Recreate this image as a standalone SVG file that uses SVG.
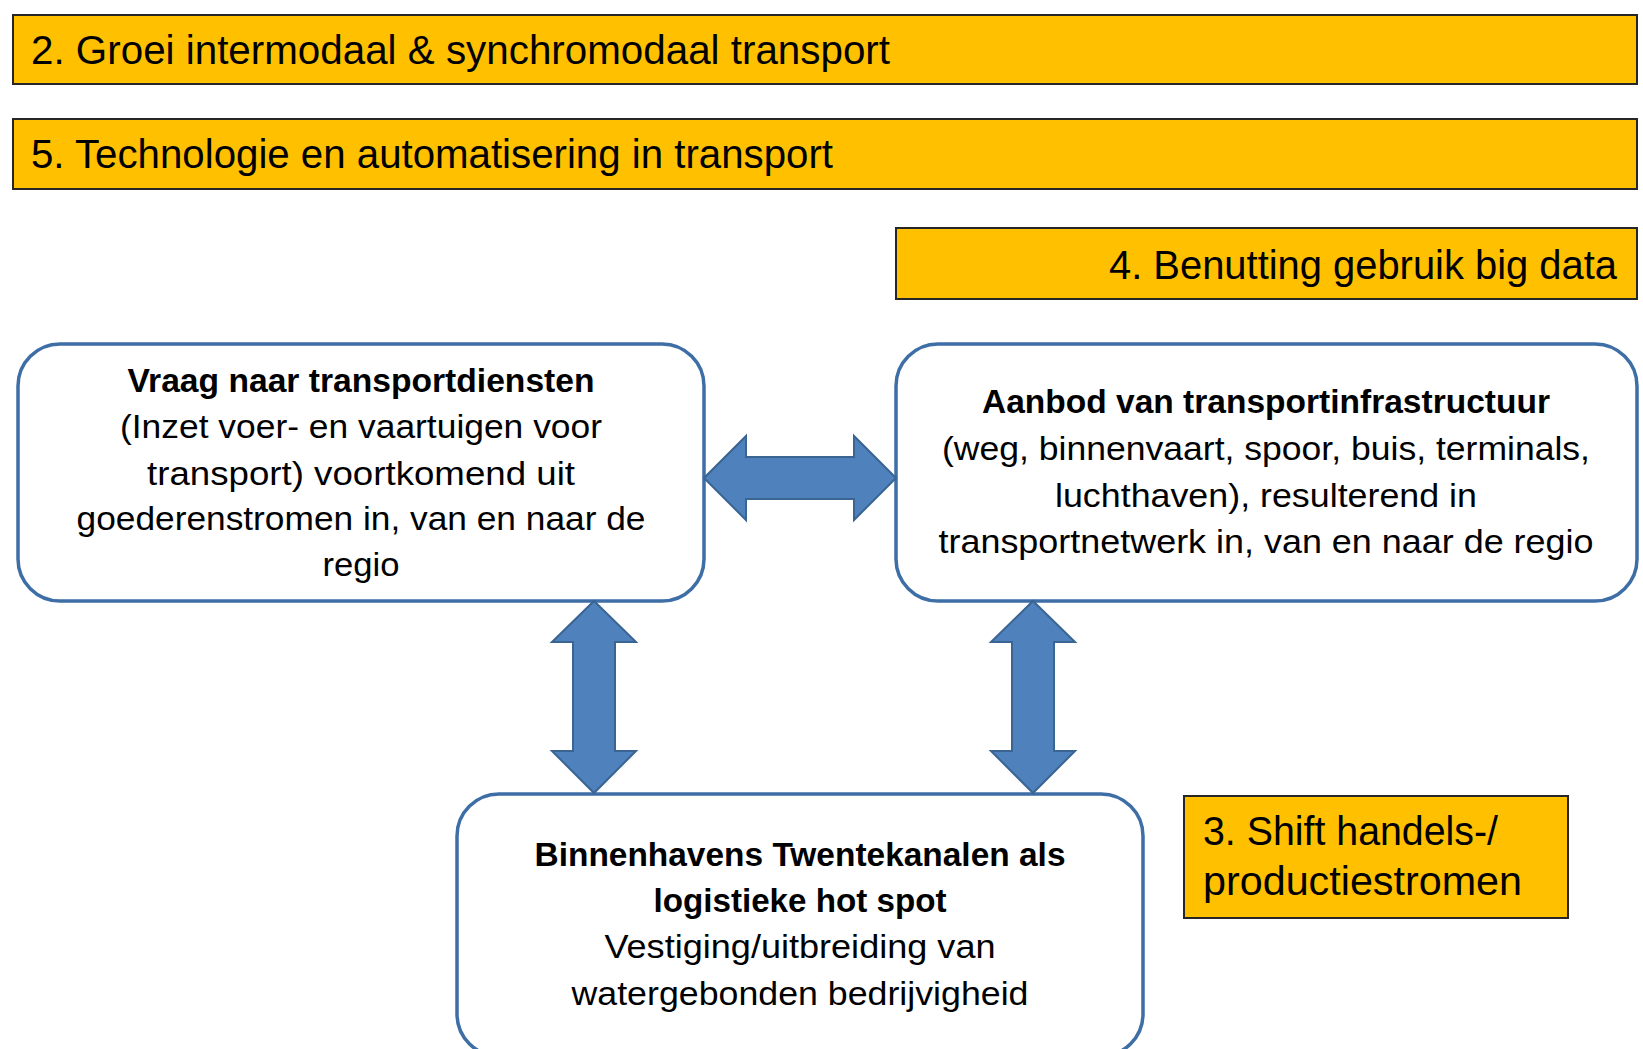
<svg xmlns="http://www.w3.org/2000/svg" width="1643" height="1049" viewBox="0 0 1643 1049">
<style>
.banner{fill:#FFC000;stroke:#262626;stroke-width:2}
.bt{font-family:"Liberation Sans",Arial,sans-serif;font-size:41px;fill:#000}
.node{fill:#fff;stroke:#3E6EA6;stroke-width:3.5}
.t{font-family:"Liberation Sans",Arial,sans-serif;font-size:34px;fill:#000;text-anchor:middle}
.b{font-weight:bold}
.arrow{fill:#4F81BD;stroke:#3A6593;stroke-width:2;stroke-linejoin:miter}
</style>
<rect width="1643" height="1049" fill="#fff"/>
<g id="factor2">
<rect class="banner" x="13" y="15" width="1624" height="69"/>
<text class="bt" x="31" y="64" textLength="859" lengthAdjust="spacingAndGlyphs">2. Groei intermodaal &amp; synchromodaal transport</text>
</g>
<g id="factor5">
<rect class="banner" x="13" y="119" width="1624" height="70"/>
<text class="bt" x="31" y="168" textLength="802" lengthAdjust="spacingAndGlyphs">5. Technologie en automatisering in transport</text>
</g>
<g id="factor4">
<rect class="banner" x="896" y="228" width="741" height="71"/>
<text class="bt" x="1109" y="279" textLength="508" lengthAdjust="spacingAndGlyphs">4. Benutting gebruik big data</text>
</g>
<g id="factor3">
<rect class="banner" x="1184" y="796" width="384" height="122"/>
<text class="bt" x="1203" y="845" textLength="295" lengthAdjust="spacingAndGlyphs">3. Shift handels-/</text>
<text class="bt" x="1203" y="895" textLength="319" lengthAdjust="spacingAndGlyphs">productiestromen</text>
</g>
<g id="vraag">
<rect class="node" x="18" y="344" width="686" height="257" rx="42" ry="42"/>
<text class="t b" x="361" y="392" textLength="467" lengthAdjust="spacingAndGlyphs">Vraag naar transportdiensten</text>
<text class="t" x="361" y="438" textLength="482" lengthAdjust="spacingAndGlyphs">(Inzet voer- en vaartuigen voor</text>
<text class="t" x="361" y="485" textLength="428" lengthAdjust="spacingAndGlyphs">transport) voortkomend uit</text>
<text class="t" x="361" y="530" textLength="569" lengthAdjust="spacingAndGlyphs">goederenstromen in, van en naar de</text>
<text class="t" x="361" y="576" textLength="77" lengthAdjust="spacingAndGlyphs">regio</text>
</g>
<g id="aanbod">
<rect class="node" x="896" y="344" width="741" height="257" rx="42" ry="42"/>
<text class="t b" x="1266" y="413" textLength="568" lengthAdjust="spacingAndGlyphs">Aanbod van transportinfrastructuur</text>
<text class="t" x="1266" y="460" textLength="648" lengthAdjust="spacingAndGlyphs">(weg, binnenvaart, spoor, buis, terminals,</text>
<text class="t" x="1266" y="507" textLength="422" lengthAdjust="spacingAndGlyphs">luchthaven), resulterend in</text>
<text class="t" x="1266" y="553" textLength="655" lengthAdjust="spacingAndGlyphs">transportnetwerk in, van en naar de regio</text>
</g>
<g id="binnenhavens">
<rect class="node" x="457" y="794" width="686" height="262" rx="42" ry="42"/>
<text class="t b" x="800" y="866" textLength="531" lengthAdjust="spacingAndGlyphs">Binnenhavens Twentekanalen als</text>
<text class="t b" x="800" y="912" textLength="293" lengthAdjust="spacingAndGlyphs">logistieke hot spot</text>
<text class="t" x="800" y="958" textLength="391" lengthAdjust="spacingAndGlyphs">Vestiging/uitbreiding van</text>
<text class="t" x="800" y="1005" textLength="457" lengthAdjust="spacingAndGlyphs">watergebonden bedrijvigheid</text>
</g>
<g id="connectors">
<path class="arrow" d="M704,478 L746,436 L746,457 L854,457 L854,436 L896,478 L854,520 L854,499 L746,499 L746,520 Z"/>
<path class="arrow" d="M594,601 L636,642 L615,642 L615,751 L636,751 L594,793 L552,751 L573,751 L573,642 L552,642 Z"/>
<path class="arrow" d="M1033,601 L1075,642 L1054,642 L1054,751 L1075,751 L1033,793 L991,751 L1012,751 L1012,642 L991,642 Z"/>
</g>
</svg>
